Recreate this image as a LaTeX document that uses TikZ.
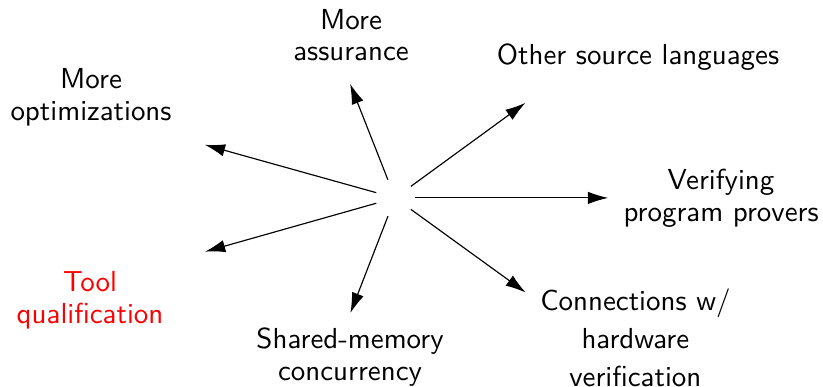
\documentclass[tikz,border=0pt]{standalone}
\usepackage{tikz}
\usetikzlibrary{arrows.meta,calc}
\tikzset{
    topic/.style={
           anchor=north,
           align=center,
           inner sep=0pt,
           font=\sffamily\fontsize{10}{11}\selectfont,
           },
    hubnode/.style={
           circle,
           minimum size=0.46cm,
           inner sep=0pt,
           },
}

\begin{document}
\begin{tikzpicture}[->,>={Latex[length=7pt,width=4.3pt]},line width=0.4pt]

    \useasboundingbox (0,0) rectangle (10,4.702);

    \node[hubnode] (hub) at (4.80,2.297) {};

    \node[topic] (assur)  at (4.265,4.599) {More\\assurance};
    \node[topic] (optim)  at (1.106,3.873) {More\\optimizations};
    \node[topic,text=red] (tool) at (1.094,1.410) {Tool\\qualification};
    \node[topic] (shared) at (4.253,0.729) {Shared-memory\\concurrency};
    \node[topic] (other)  at (7.752,4.180) {Other source languages};
    \node[topic] (verif)  at (8.761,2.657) {Verifying\\program provers};
    \node[topic] (conn)   at (7.72,1.203) {Connections w/\\[2.2pt]hardware\\[2.2pt]verification};

    \coordinate (assur-tip)  at ($(hub)+(111.5:1.49)$);
    \coordinate (optim-tip)  at ($(hub)+(164.4:2.40)$);
    \coordinate (tool-tip)   at ($(hub)+(195.8:2.40)$);
    \coordinate (shared-tip) at ($(hub)+(248.8:1.50)$);
    \coordinate (other-tip)  at ($(hub)+(36.1:1.96)$);
    \coordinate (verif-tip)  at ($(hub)+(0:2.59)$);
    \coordinate (conn-tip)   at ($(hub)+(-35.9:1.96)$);

    \draw (hub) -- (assur-tip);
    \draw (hub) -- (optim-tip);
    \draw (hub) -- (tool-tip);
    \draw (hub) -- (shared-tip);
    \draw (hub) -- (other-tip);
    \draw (hub) -- (verif-tip);
    \draw (hub) -- (conn-tip);

\end{tikzpicture}
\end{document}
